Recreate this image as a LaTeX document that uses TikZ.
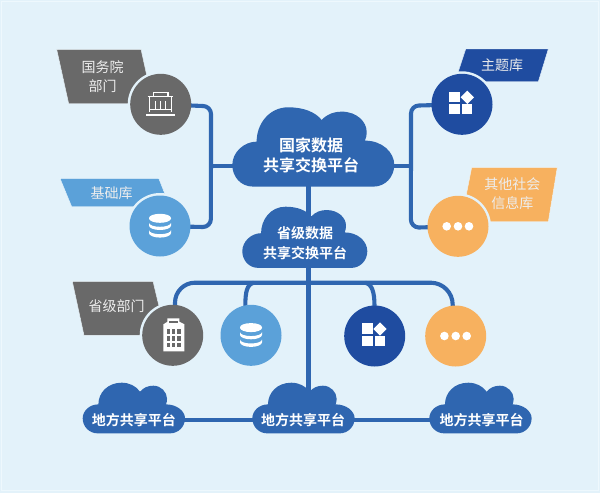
\documentclass[tikz,border=0pt]{standalone}
\usepackage{fontspec}
\setmainfont{Noto Sans CJK SC}
\newfontfamily\cjkb{Noto Sans CJK SC Bold}
\definecolor{bgc}{HTML}{E3F2FA}
\definecolor{framec}{HTML}{EEF8FD}
\definecolor{cloudc}{HTML}{2F66B0}
\definecolor{grayc}{HTML}{696969}
\definecolor{skyc}{HTML}{5BA1D9}
\definecolor{navyc}{HTML}{1F4CA0}
\definecolor{orangec}{HTML}{F7B15F}
\definecolor{lblc}{HTML}{EDEDED}
\pgfdeclarelayer{back}\pgfdeclarelayer{conn}
\pgfsetlayers{back,conn,main}
\tikzset{
  hub/.style={circle,inner sep=0pt,minimum size=61pt},
  halo/.style={fill=bgc},
  tag/.style={draw=framec,line width=.4pt},
  tagtext/.style={text=lblc,font=\fontsize{14}{19}\selectfont,align=center,inner sep=0pt},
  cloudtext/.style={text=white,font=\cjkb\fontsize{#1}{20}\selectfont,align=center,inner sep=0pt},
  wire/.style={draw=cloudc,line width=4.1pt},
}
\newcommand{\cloudA}[3]{% left, top, scale-x, fixed aspect
  \fill[cloudc,shift={(#1,#2)},xscale=#3,yscale=#3]
   (63,238) .. controls (25,238) and (0,208) .. (0,173)
   .. controls (0,135) and (35,103) .. (73,103)
   .. controls (73,50) and (110,0) .. (168,0)
   .. controls (215,0) and (250,15) .. (268,38)
   .. controls (285,20) and (305,13) .. (328,13)
   .. controls (375,13) and (403,45) .. (403,72)
   .. controls (403,85) and (402,92) .. (398,100)
   .. controls (450,100) and (486,135) .. (486,173)
   .. controls (486,208) and (460,238) .. (423,238) -- cycle;}
\newcommand{\cloudB}[2]{%
  \fill[cloudc,shift={(#1,#2)},xscale=.3333,yscale=.3333]
   (45,152) .. controls (20,152) and (0,132) .. (0,107)
   .. controls (0,85) and (20,65) .. (47,65)
   .. controls (47,30) and (75,0) .. (117,0)
   .. controls (140,0) and (160,10) .. (172,27)
   .. controls (182,15) and (195,9) .. (212,9)
   .. controls (235,9) and (253,28) .. (253,48)
   .. controls (253,55) and (252,60) .. (250,65)
   .. controls (282,65) and (307,85) .. (307,107)
   .. controls (307,132) and (287,152) .. (262,152) -- cycle;}
\newcommand{\dbicon}[2]{\begin{scope}[shift={(#1,#2)}]
  \fill[white] (-11,-8) arc[x radius=11,y radius=4.2,start angle=180,end angle=-180] -- cycle;
  \fill[white] (-11,-8) -- (-11,-7.6) arc[x radius=11,y radius=4.4,start angle=180,end angle=0] -- (11,-8) -- cycle;
  \fill[white] (-11,-3.2) arc[x radius=11,y radius=4,start angle=180,end angle=0] -- (11,-0.4) arc[x radius=11,y radius=4.4,start angle=0,end angle=180] -- cycle;
  \fill[white] (-11,4.2) arc[x radius=11,y radius=4,start angle=180,end angle=0] -- (11,7) arc[x radius=11,y radius=4.6,start angle=0,end angle=180] -- cycle;
\end{scope}}
\newcommand{\tileicon}[2]{\begin{scope}[shift={(#1,#2)}]
  \fill[white] (-12.7,-12.7) rectangle (-2,-2);
  \fill[white] (-12.7,-.3) rectangle (-2,10);
  \fill[white] (0,-.3) rectangle (10.3,10);
  \fill[white] (5.3,-13.7) -- (12,-7) -- (5.3,-.3) -- (-1.4,-7) -- cycle;
\end{scope}}
\newcommand{\dotsicon}[2]{\begin{scope}[shift={(#1,#2)}]
  \foreach \k in {-11.3,0,11} \fill[white] (\k,0) circle[radius=4.3];
\end{scope}}
\begin{document}
\begin{tikzpicture}[x=1pt,y=-1pt]
\useasboundingbox (0,0) rectangle (600,493);
\begin{pgfonlayer}{back}
  \fill[bgc] (0,0) rectangle (600,493);
  \draw[framec,line width=.9pt] (1.6,1.6) rectangle (598.4,490.8);
  % tags
  \filldraw[tag,fill=grayc] (56.7,49.3) -- (141,49.3) -- (153,103.7) -- (68.7,103.7) -- cycle;
  \filldraw[tag,fill=skyc] (60,178.3) -- (158.7,178.3) -- (170,206.7) -- (71.7,206.7) -- cycle;
  \filldraw[tag,fill=navyc] (465.7,49) -- (548.3,49) -- (538.3,81.7) -- (455,81.7) -- cycle;
  \filldraw[tag,fill=orangec] (471.7,167.3) -- (557.3,167.3) -- (548.3,221.7) -- (461,221.7) -- cycle;
  \filldraw[tag,fill=grayc] (72.3,281.3) -- (153,281.3) -- (166,335.3) -- (84,335.3) -- cycle;
  % light rings where a circle overlaps its tag
  \fill[halo] (160.7,104.3) circle[radius=33];
  \fill[halo] (160,226) circle[radius=33];
  \fill[halo] (462,104.3) circle[radius=33];
  \fill[halo] (458,226.3) circle[radius=33];
  \fill[halo] (172.7,335.3) circle[radius=33];
\end{pgfonlayer}

\node[tagtext] (tGov) at (102.7,77) {国务院\\部门};
\node[tagtext] (tBase) at (111.7,193) {基础库};
\node[tagtext] (tTheme) at (502,64.8) {主题库};
\node[tagtext] (tOther) at (512.3,194) {其他社会\\信息库};
\node[tagtext] (tProv) at (116.7,306) {省级部门};

% hubs
\node[hub,fill=grayc]   (gov)   at (160.7,104.3) {};
\node[hub,fill=skyc]    (base)  at (160,226)   {};
\node[hub,fill=navyc]   (theme) at (462,104.3)   {};
\node[hub,fill=orangec] (other) at (458,226.3)   {};
\node[hub,fill=grayc]   (pdept) at (172.7,335.3) {};
\node[hub,fill=skyc]    (pbase) at (251,335.3)   {};
\node[hub,fill=navyc]   (ptheme) at (374.7,336)  {};
\node[hub,fill=orangec] (pother) at (455.7,336)  {};

% clouds
\cloudA{232.3}{107.3}{.3333}
\cloudA{242.3}{206.7}{.2572}
\cloudB{82.7}{382.7}
\cloudB{252.3}{382.7}
\cloudB{429.3}{382.7}
\node[cloudtext=16] (nat) at (311,155.5) {国家数据\\共享交换平台};
\node[cloudtext=14] (prov) at (305,243) {省级数据\\共享交换平台};
\node[cloudtext=14] (loc1) at (133.8,420) {地方共享平台};
\node[cloudtext=14] (loc2) at (303,420) {地方共享平台};
\node[cloudtext=14] (loc3) at (481.5,420) {地方共享平台};

% icons
\begin{scope}[shift={(gov.center)},white,line width=1.3pt]
  \draw (-7.2,-7.5) -- (-7.2,-11.5) -- (7.4,-11.5) -- (7.4,-7.5);
  \draw (-13,-7.6) -- (12.4,-7.6);
  \draw (-11,-7.6) -- (-11,8);
  \draw (11,-7.6) -- (11,8);
  \foreach \k in {-5,0,5} \draw (\k,-3) -- (\k,5.5);
  \draw (-11,5.5) -- (11,5.5);
  \draw[line width=1.6pt] (-14.6,10.6) -- (14.6,10.6);
\end{scope}
\dbicon{160}{226}
\dbicon{251}{335.3}
\tileicon{462}{104.3}
\tileicon{374.7}{336}
\dotsicon{458}{226.3}
\dotsicon{455.7}{336}
\begin{scope}[shift={(pdept.center)}]
  \fill[white] (-9.3,-11) -- (-5.3,-13.5) -- (-5.3,-17) -- (6.7,-17) -- (6.7,-13.5) -- (11.7,-11) -- (11.7,16) -- (-9.3,16) -- cycle;
  \foreach \c in {-4.3,1,6.3} \foreach \r in {-3.7,3,9.7}
    \fill[grayc] (\c-1.6,\r-2.3) rectangle (\c+1.6,\r+2.3);
  \fill[grayc] (-3.5,-12.4) rectangle (4.9,-14);
\end{scope}

% connectors
\begin{pgfonlayer}{conn}
  \coordinate (natL) at (240,165.7);
  \coordinate (natR) at (390,165.7);
  \coordinate (natB) at (308.3,180);
  \coordinate (loc2T) at (308.3,392);
  \draw[wire] (gov.center) -- (203,106) arc[start angle=-90,end angle=0,radius=8] -- (210.9,219) arc[start angle=0,end angle=90,radius=8] -- (base.center);
  \draw[wire] (natL) -- (210.9,165.7);
  \draw[wire] (theme.center) -- (419,105.5) arc[start angle=270,end angle=180,radius=8] -- (410.9,219.5) arc[start angle=180,end angle=90,radius=8] -- (other.center);
  \draw[wire] (natR) -- (410.9,165.7);
  \draw[wire,line width=4.8pt] (natB) -- (loc2T);
  \draw[wire] (175,312) -- (175,302.7) arc[start angle=180,end angle=270,radius=20] -- (430.7,282.7) arc[start angle=-90,end angle=0,radius=22] -- (452.7,312);
  \draw[wire] (245.3,312) -- (245.3,306) .. controls (245.3,292) and (247,284) .. (254,282.7);
  \draw[wire] (374.5,312) -- (374.5,306) .. controls (374.5,292) and (372,284) .. (365,282.7);
  \draw[wire] (loc1) -- (loc2);
  \draw[wire] (loc2) -- (loc3);
\end{pgfonlayer}
\end{tikzpicture}
\end{document}
